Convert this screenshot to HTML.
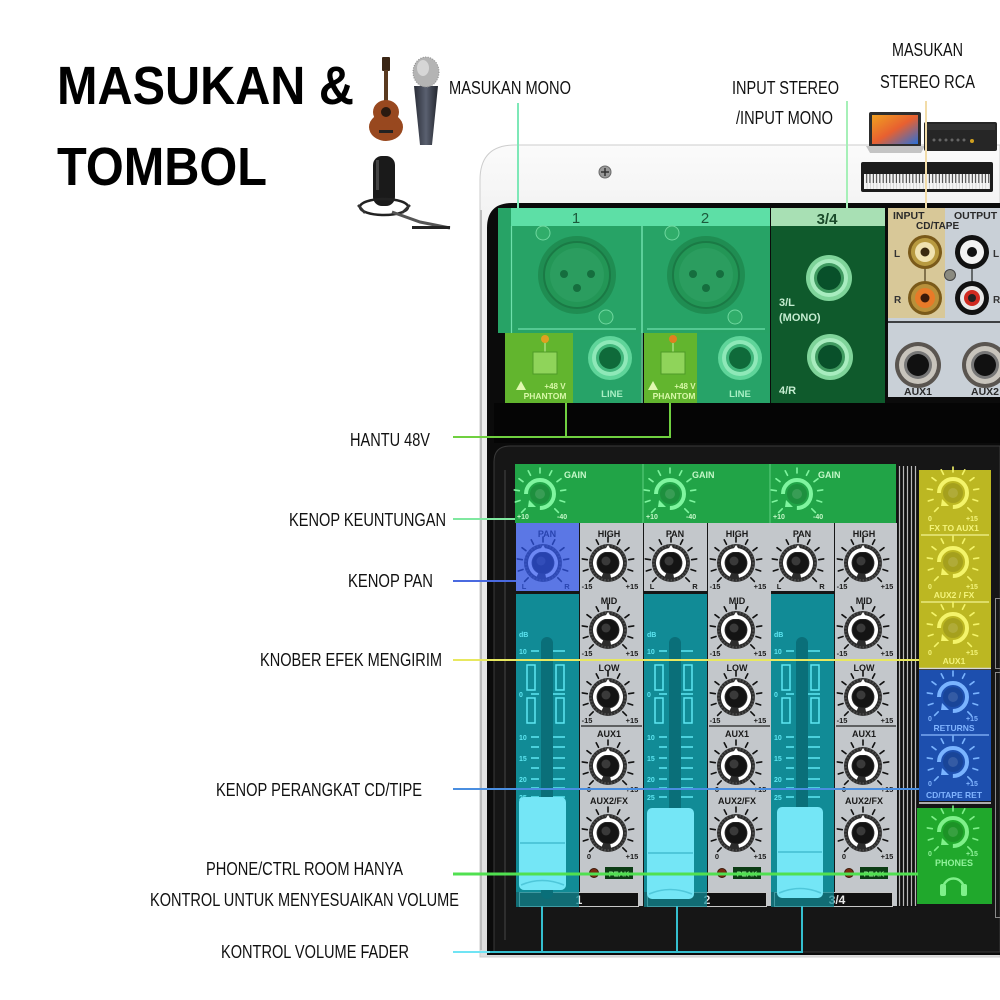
<!DOCTYPE html>
<html><head><meta charset="utf-8"><style>html,body{margin:0;padding:0;background:#fff}svg{display:block}</style></head>
<body>
<svg width="1000" height="1000" viewBox="0 0 1000 1000" xmlns="http://www.w3.org/2000/svg" font-family="'Liberation Sans', Arial, sans-serif">
<defs>
  <linearGradient id="topg" x1="0" y1="0" x2="0" y2="1"><stop offset="0" stop-color="#fbfbfb"/><stop offset="0.08" stop-color="#f3f3f3"/><stop offset="1" stop-color="#dedede"/></linearGradient>
  <linearGradient id="micg" x1="0" y1="0" x2="1" y2="0"><stop offset="0" stop-color="#2a2e38"/><stop offset="0.5" stop-color="#5a6070"/><stop offset="1" stop-color="#23262e"/></linearGradient>
  <linearGradient id="scr" x1="0" y1="0" x2="1" y2="1"><stop offset="0" stop-color="#f0a020"/><stop offset="0.5" stop-color="#e86030"/><stop offset="1" stop-color="#2a70d8"/></linearGradient>
  <pattern id="keys" x="864" y="174" width="3.3" height="20" patternUnits="userSpaceOnUse"><rect width="3.3" height="20" fill="#f4f4f4"/><rect x="2.2" y="0" width="1.1" height="9" fill="#222"/><rect x="3" y="0" width="0.3" height="20" fill="#999"/></pattern>
  <g id="ticks" stroke-width="1.6" stroke-linecap="round" fill="none">
    <path d="M-14.8 14.8L-18.4 18.4M-20 6.5L-24.7 8M-20.7 -3.3L-25.7 -4.1M-17 -12.3L-21 -15.3M-9.5 -18.7L-11.8 -23.2M0 -21L0 -26M9.5 -18.7L11.8 -23.2M17 -12.3L21 -15.3M20.7 -3.3L25.7 -4.1M20 6.5L24.7 8M14.8 14.8L18.4 18.4"/>
  </g>
  <g id="knob">
    <use href="#ticks" stroke="#111"/>
    <circle r="19" fill="#2c2c2c"/>
    <circle r="17.5" fill="none" stroke="#4a4a4a" stroke-width="2.5" stroke-dasharray="1.5 1.8"/>
    <circle r="13.2" fill="none" stroke="#fff" stroke-width="3.6" stroke-dasharray="74 9" transform="rotate(115)"/>
    <circle r="10.5" fill="#141414"/>
    <circle cx="-2" cy="-2" r="4.5" fill="#3a3a3a"/>
    <path d="M0 -18 L-4.5 -11 L4.5 -11Z" fill="#fff"/>
  </g>
  <g id="cknob">
    <use href="#ticks" stroke="currentColor"/>
    <circle r="10" fill="#000" fill-opacity="0.12"/>
    <circle r="14" fill="none" stroke="currentColor" stroke-width="4" stroke-dasharray="66 22" transform="rotate(180)"/>
    <circle r="5" fill="#fff" fill-opacity="0.12"/>
    <path d="M-11 6 L-4 13 L-12 13Z" fill="currentColor"/>
  </g>
</defs>

<rect width="1000" height="1000" fill="#fff"/>

<!-- ===== casing ===== -->
<path d="M480 957 L480 180 Q480 145 515 145 L1000 145 L1000 957 Z" fill="url(#topg)" stroke="#cdcdcd"/>
<path d="M487 955 L487 228 Q487 203 512 203 L1000 203 L1000 955 Z" fill="#0b0b0b"/>
<line x1="481" y1="210" x2="481" y2="950" stroke="#bdbdbd" stroke-width="2"/>
<!-- screw -->
<circle cx="605" cy="172" r="6" fill="#9a9a9a" stroke="#6a6a6a"/>
<path d="M601 172h8M605 168v8" stroke="#333" stroke-width="1.5"/>

<!-- ===== back panel ===== -->
<rect x="498" y="208" width="272" height="125" fill="#27a366"/>
<rect x="511" y="208" width="259" height="18" fill="#5ddfa6"/>
<text x="576" y="223" font-size="15" text-anchor="middle" fill="#1b5a3b">1</text>
<text x="705" y="223" font-size="15" text-anchor="middle" fill="#1b5a3b">2</text>
<line x1="511.5" y1="226" x2="511.5" y2="403" stroke="#6fe0ac" stroke-width="1.2"/>
<line x1="642" y1="226" x2="642" y2="403" stroke="#6fe0ac" stroke-width="1.5"/>
<line x1="518" y1="329" x2="636" y2="329" stroke="#6fe0ac" stroke-width="1.2"/>
<line x1="647" y1="329" x2="765" y2="329" stroke="#6fe0ac" stroke-width="1.2"/>
<!-- XLR 1 -->
<g transform="translate(577,275)">
  <circle r="39" fill="#1f8d52"/>
  <circle r="33" fill="#239656" stroke="#1a7a45" stroke-width="2"/>
  <circle r="27" fill="#2b9d5f"/>
  <circle cx="-13" cy="-1" r="4" fill="#156e3e"/><circle cx="14" cy="-1" r="4" fill="#156e3e"/><circle cx="0" cy="13" r="4" fill="#156e3e"/>
</g>
<circle cx="543" cy="233" r="7" fill="#30ad6a" stroke="#6fd89f"/>
<circle cx="606" cy="317" r="7" fill="#30ad6a" stroke="#6fd89f"/>
<!-- XLR 2 -->
<g transform="translate(706,275)">
  <circle r="39" fill="#1f8d52"/>
  <circle r="33" fill="#239656" stroke="#1a7a45" stroke-width="2"/>
  <circle r="27" fill="#2b9d5f"/>
  <circle cx="-13" cy="-1" r="4" fill="#156e3e"/><circle cx="14" cy="-1" r="4" fill="#156e3e"/><circle cx="0" cy="13" r="4" fill="#156e3e"/>
</g>
<circle cx="672" cy="233" r="7" fill="#30ad6a" stroke="#6fd89f"/>
<circle cx="735" cy="317" r="7" fill="#30ad6a" stroke="#6fd89f"/>
<!-- phantom 1 -->
<rect x="505" y="333" width="68" height="70" fill="#62b52e"/>
<rect x="573" y="333" width="68" height="70" fill="#27a368"/>
<circle cx="545" cy="339" r="4" fill="#e0a020"/>
<line x1="545" y1="343" x2="545" y2="352" stroke="#b8e890" stroke-width="1.2"/>
<rect x="533" y="352" width="24" height="22" fill="#8fd45a" stroke="#4f9a28"/>
<path d="M516 390 L521 381 L526 390Z" fill="#e0f8b0"/>
<text x="555" y="389" font-size="8" font-weight="bold" text-anchor="middle" fill="#d8f8a8">+48 V</text>
<text x="545" y="399" font-size="8.5" font-weight="bold" text-anchor="middle" fill="#d8f8a8">PHANTOM</text>
<g transform="translate(610,358)">
  <circle r="22" fill="#5fd59a"/><circle r="18" fill="#8ee8b8"/><circle r="14" fill="#3fb57a"/><circle r="11" fill="#0f6a3a"/>
</g>
<text x="612" y="397" font-size="9.5" font-weight="bold" text-anchor="middle" fill="#a8f0c4">LINE</text>
<!-- phantom 2 -->
<rect x="644" y="333" width="53" height="70" fill="#62b52e"/>
<rect x="697" y="333" width="73" height="70" fill="#27a368"/>
<circle cx="673" cy="339" r="4" fill="#e08020"/>
<line x1="673" y1="343" x2="673" y2="352" stroke="#b8e890" stroke-width="1.2"/>
<rect x="661" y="352" width="24" height="22" fill="#8fd45a" stroke="#4f9a28"/>
<path d="M648 390 L653 381 L658 390Z" fill="#e0f8b0"/>
<text x="685" y="389" font-size="8" font-weight="bold" text-anchor="middle" fill="#d8f8a8">+48 V</text>
<text x="674" y="399" font-size="8.5" font-weight="bold" text-anchor="middle" fill="#d8f8a8">PHANTOM</text>
<g transform="translate(740,358)">
  <circle r="22" fill="#5fd59a"/><circle r="18" fill="#8ee8b8"/><circle r="14" fill="#3fb57a"/><circle r="11" fill="#0f6a3a"/>
</g>
<text x="740" y="397" font-size="9.5" font-weight="bold" text-anchor="middle" fill="#a8f0c4">LINE</text>
<!-- 3/4 -->
<rect x="771" y="208" width="114" height="18" fill="#a8e0b4"/>
<text x="827" y="224" font-size="15" font-weight="bold" text-anchor="middle" fill="#1a4a2a">3/4</text>
<rect x="771" y="226" width="114" height="177" fill="#0f5a2c"/>
<g transform="translate(829,278)"><circle r="23" fill="#7fd49a"/><circle r="19" fill="#a8ecbf"/><circle r="15" fill="#3f9a60"/><circle r="12" fill="#08502a"/></g>
<g transform="translate(830,357)"><circle r="23" fill="#7fd49a"/><circle r="19" fill="#a8ecbf"/><circle r="15" fill="#3f9a60"/><circle r="12" fill="#08502a"/></g>
<text x="779" y="306" font-size="11" font-weight="bold" fill="#c4ecd0">3/L</text>
<text x="779" y="321" font-size="11" font-weight="bold" fill="#c4ecd0">(MONO)</text>
<text x="779" y="394" font-size="11" font-weight="bold" fill="#c4ecd0">4/R</text>
<!-- right gray I/O panel -->
<rect x="888" y="208" width="112" height="189" fill="#c9d0d7"/>
<rect x="888" y="208" width="57" height="110" fill="#d8c898"/>
<text x="893" y="219" font-size="10.5" font-weight="bold" fill="#2a2a2a">INPUT</text>
<text x="954" y="219" font-size="10.5" font-weight="bold" fill="#2a2a2a">OUTPUT</text>
<text x="916" y="229" font-size="10" font-weight="bold" fill="#2a2a2a">CD/TAPE</text>
<line x1="925" y1="252" x2="925" y2="298" stroke="#4a3a1a" stroke-width="1.2"/>
<line x1="972" y1="252" x2="972" y2="298" stroke="#222" stroke-width="1.2"/>
<g transform="translate(925,252)"><circle r="17" fill="#7a5a1a"/><circle r="14" fill="#b89a40"/><circle r="10" fill="#f0e2b0"/><circle r="4.5" fill="#3a2a10"/></g>
<g transform="translate(925,298)"><circle r="17" fill="#7a5a1a"/><circle r="14" fill="#b8903a"/><circle r="10" fill="#e87a28"/><circle r="4.5" fill="#3a1a0a"/></g>
<g transform="translate(972,252)"><circle r="17" fill="#111"/><circle r="12" fill="#f2f2f2"/><circle r="5" fill="#111"/></g>
<g transform="translate(972,298)"><circle r="17" fill="#111"/><circle r="12" fill="#e8e8e8"/><circle r="8" fill="#d02a20"/><circle r="4" fill="#222"/></g>
<circle cx="950" cy="275" r="5.5" fill="#8a8a80" stroke="#444"/>
<text x="894" y="257" font-size="10" font-weight="bold" fill="#333">L</text>
<text x="894" y="303" font-size="10" font-weight="bold" fill="#333">R</text>
<text x="993" y="257" font-size="10" font-weight="bold" fill="#333">L</text>
<text x="993" y="303" font-size="10" font-weight="bold" fill="#333">R</text>
<line x1="888" y1="322" x2="1000" y2="322" stroke="#111" stroke-width="1.5"/>
<g transform="translate(918,365)"><circle r="23" fill="#5a5550"/><circle r="19" fill="#c8c4bc"/><circle r="14" fill="#777"/><circle r="11" fill="#111"/></g>
<g transform="translate(985,365)"><circle r="23" fill="#5a5550"/><circle r="19" fill="#c8c4bc"/><circle r="14" fill="#777"/><circle r="11" fill="#111"/></g>
<text x="918" y="395" font-size="10.5" font-weight="bold" text-anchor="middle" fill="#2a2a2a">AUX1</text>
<text x="985" y="395" font-size="10.5" font-weight="bold" text-anchor="middle" fill="#2a2a2a">AUX2</text>

<!-- ===== front panel ===== -->
<rect x="494" y="403" width="506" height="40" fill="#050505"/>
<path d="M494 952 L494 462 Q494 446 510 446 L1000 446 L1000 952 Z" fill="#161616" stroke="#3a3a3a"/>
<line x1="505" y1="470" x2="505" y2="940" stroke="#2e2e2e" stroke-width="2"/>

<!-- gain band -->
<rect x="515" y="464" width="381" height="59" fill="#21a447"/>
<line x1="643" y1="464" x2="643" y2="523" stroke="#60d080"/>
<line x1="770" y1="464" x2="770" y2="523" stroke="#60d080"/>
<use href="#cknob" x="540" y="494" style="color:#7ff59f"/>
<use href="#cknob" x="670" y="494" style="color:#7ff59f"/>
<use href="#cknob" x="797" y="494" style="color:#7ff59f"/>
<g font-size="9" font-weight="bold" fill="#c4f8c8">
<text x="564" y="478">GAIN</text><text x="692" y="478">GAIN</text><text x="818" y="478">GAIN</text>
</g>
<g font-size="7" font-weight="bold" fill="#c4f8c8">
<text x="517" y="519">+10</text><text x="557" y="519">-40</text>
<text x="646" y="519">+10</text><text x="686" y="519">-40</text>
<text x="773" y="519">+10</text><text x="813" y="519">-40</text>
</g>

<!-- ===== channel 1 ===== -->
<g id="ch1">
<rect x="580" y="523" width="63" height="383" fill="#c3c7cb"/>
<rect x="516" y="523" width="63" height="68" fill="#c3c7cb"/>
<g font-size="9" font-weight="bold" text-anchor="middle" fill="#1a1a1a">
<text x="547" y="537">PAN</text>
<text x="609" y="537">HIGH</text>
<text x="609" y="604">MID</text>
<text x="609" y="671">LOW</text>
<text x="609" y="737">AUX1</text>
<text x="609" y="804">AUX2/FX</text>
</g>
<use href="#knob" x="543" y="563"/>
<use href="#knob" x="608" y="563"/>
<use href="#knob" x="608" y="630"/>
<use href="#knob" x="608" y="697"/>
<use href="#knob" x="608" y="766"/>
<use href="#knob" x="608" y="833"/>
<g font-size="7.5" font-weight="bold" text-anchor="middle" fill="#1a1a1a">
<text x="524" y="589">L</text><text x="567" y="589">R</text>
<text x="587" y="589">-15</text><text x="632" y="589">+15</text>
<text x="587" y="656">-15</text><text x="632" y="656">+15</text>
<text x="587" y="723">-15</text><text x="632" y="723">+15</text>
<text x="589" y="792">0</text><text x="632" y="792">+15</text>
<text x="589" y="859">0</text><text x="632" y="859">+15</text>
</g>
<line x1="581" y1="726" x2="642" y2="726" stroke="#222" stroke-width="1.2"/>
<circle cx="594" cy="873" r="4.5" fill="#7a2a10" stroke="#3a1a08"/>
<rect x="605" y="867" width="28" height="12" fill="#0d3d15"/>
<text x="619" y="876.5" font-size="7.5" font-weight="bold" text-anchor="middle" fill="#8ef08e">PEAK</text>
<rect x="519.5" y="892.5" width="119" height="14" fill="#111" stroke="#c8c8c8"/>
<text x="579" y="904" font-size="12" font-weight="bold" text-anchor="middle" fill="#e8e8e8">1</text>
<!-- fader -->
<rect x="516" y="594" width="63" height="298" fill="#118b96"/>
<rect x="516" y="892" width="63" height="15" fill="#118b96" fill-opacity="0.75"/>
<rect x="541" y="637" width="12" height="262" rx="6" fill="#0a6f79"/>
<g font-size="7" font-weight="bold" fill="#5ee6f2">
<text x="519" y="637">dB</text>
<text x="519" y="654">10</text><text x="519" y="697">0</text><text x="519" y="740">10</text><text x="519" y="761">15</text><text x="519" y="782">20</text><text x="519" y="800">25</text>
</g>
<g stroke="#5ee6f2" stroke-width="1.5" fill="none">
<path d="M531 651h8M553 651h12M531 694h8M553 694h12M531 737h8M553 737h12M531 747h8M553 747h12M531 758h8M553 758h12M531 768h8M553 768h12M531 779h8M553 779h12M531 788h8M553 788h12M531 797h8M553 797h12"/>
<rect x="527" y="665" width="8" height="25"/><rect x="527" y="698" width="8" height="25"/>
<rect x="556" y="665" width="8" height="25"/><rect x="556" y="698" width="8" height="25"/>
</g>
</g>
<!-- pan ch1 blue highlight -->
<rect x="516" y="523" width="63" height="68" fill="#2f55f0" fill-opacity="0.7"/>

<!-- ===== channel 2 ===== -->
<g transform="translate(128,0)">
<rect x="580" y="523" width="63" height="383" fill="#c3c7cb"/>
<rect x="516" y="523" width="63" height="68" fill="#c3c7cb"/>
<g font-size="9" font-weight="bold" text-anchor="middle" fill="#1a1a1a">
<text x="547" y="537">PAN</text>
<text x="609" y="537">HIGH</text>
<text x="609" y="604">MID</text>
<text x="609" y="671">LOW</text>
<text x="609" y="737">AUX1</text>
<text x="609" y="804">AUX2/FX</text>
</g>
<use href="#knob" x="543" y="563"/>
<use href="#knob" x="608" y="563"/>
<use href="#knob" x="608" y="630"/>
<use href="#knob" x="608" y="697"/>
<use href="#knob" x="608" y="766"/>
<use href="#knob" x="608" y="833"/>
<g font-size="7.5" font-weight="bold" text-anchor="middle" fill="#1a1a1a">
<text x="524" y="589">L</text><text x="567" y="589">R</text>
<text x="587" y="589">-15</text><text x="632" y="589">+15</text>
<text x="587" y="656">-15</text><text x="632" y="656">+15</text>
<text x="587" y="723">-15</text><text x="632" y="723">+15</text>
<text x="589" y="792">0</text><text x="632" y="792">+15</text>
<text x="589" y="859">0</text><text x="632" y="859">+15</text>
</g>
<line x1="581" y1="726" x2="642" y2="726" stroke="#222" stroke-width="1.2"/>
<circle cx="594" cy="873" r="4.5" fill="#7a2a10" stroke="#3a1a08"/>
<rect x="605" y="867" width="28" height="12" fill="#0d3d15"/>
<text x="619" y="876.5" font-size="7.5" font-weight="bold" text-anchor="middle" fill="#8ef08e">PEAK</text>
<rect x="519.5" y="892.5" width="119" height="14" fill="#111" stroke="#c8c8c8"/>
<text x="579" y="904" font-size="12" font-weight="bold" text-anchor="middle" fill="#e8e8e8">2</text>
<rect x="516" y="594" width="63" height="298" fill="#118b96"/>
<rect x="516" y="892" width="63" height="15" fill="#118b96" fill-opacity="0.75"/>
<rect x="541" y="637" width="12" height="262" rx="6" fill="#0a6f79"/>
<g font-size="7" font-weight="bold" fill="#5ee6f2">
<text x="519" y="637">dB</text>
<text x="519" y="654">10</text><text x="519" y="697">0</text><text x="519" y="740">10</text><text x="519" y="761">15</text><text x="519" y="782">20</text><text x="519" y="800">25</text>
</g>
<g stroke="#5ee6f2" stroke-width="1.5" fill="none">
<path d="M531 651h8M553 651h12M531 694h8M553 694h12M531 737h8M553 737h12M531 747h8M553 747h12M531 758h8M553 758h12M531 768h8M553 768h12M531 779h8M553 779h12M531 788h8M553 788h12M531 797h8M553 797h12"/>
<rect x="527" y="665" width="8" height="25"/><rect x="527" y="698" width="8" height="25"/>
<rect x="556" y="665" width="8" height="25"/><rect x="556" y="698" width="8" height="25"/>
</g>
</g>

<!-- ===== channel 3/4 ===== -->
<g transform="translate(255,0)">
<rect x="580" y="523" width="62" height="383" fill="#c3c7cb"/>
<rect x="516" y="523" width="63" height="68" fill="#c3c7cb"/>
<g font-size="9" font-weight="bold" text-anchor="middle" fill="#1a1a1a">
<text x="547" y="537">PAN</text>
<text x="609" y="537">HIGH</text>
<text x="609" y="604">MID</text>
<text x="609" y="671">LOW</text>
<text x="609" y="737">AUX1</text>
<text x="609" y="804">AUX2/FX</text>
</g>
<use href="#knob" x="543" y="563"/>
<use href="#knob" x="608" y="563"/>
<use href="#knob" x="608" y="630"/>
<use href="#knob" x="608" y="697"/>
<use href="#knob" x="608" y="766"/>
<use href="#knob" x="608" y="833"/>
<g font-size="7.5" font-weight="bold" text-anchor="middle" fill="#1a1a1a">
<text x="524" y="589">L</text><text x="567" y="589">R</text>
<text x="587" y="589">-15</text><text x="632" y="589">+15</text>
<text x="587" y="656">-15</text><text x="632" y="656">+15</text>
<text x="587" y="723">-15</text><text x="632" y="723">+15</text>
<text x="589" y="792">0</text><text x="632" y="792">+15</text>
<text x="589" y="859">0</text><text x="632" y="859">+15</text>
</g>
<line x1="581" y1="726" x2="641" y2="726" stroke="#222" stroke-width="1.2"/>
<circle cx="594" cy="873" r="4.5" fill="#7a2a10" stroke="#3a1a08"/>
<rect x="605" y="867" width="28" height="12" fill="#0d3d15"/>
<text x="619" y="876.5" font-size="7.5" font-weight="bold" text-anchor="middle" fill="#8ef08e">PEAK</text>
<rect x="519.5" y="892.5" width="118" height="14" fill="#111" stroke="#c8c8c8"/>
<text x="582" y="904" font-size="12" font-weight="bold" text-anchor="middle" fill="#e8e8e8">3/4</text>
<rect x="516" y="594" width="63" height="298" fill="#118b96"/>
<rect x="516" y="892" width="63" height="15" fill="#118b96" fill-opacity="0.75"/>
<rect x="541" y="637" width="12" height="262" rx="6" fill="#0a6f79"/>
<g font-size="7" font-weight="bold" fill="#5ee6f2">
<text x="519" y="637">dB</text>
<text x="519" y="654">10</text><text x="519" y="697">0</text><text x="519" y="740">10</text><text x="519" y="761">15</text><text x="519" y="782">20</text><text x="519" y="800">25</text>
</g>
<g stroke="#5ee6f2" stroke-width="1.5" fill="none">
<path d="M531 651h8M553 651h12M531 694h8M553 694h12M531 737h8M553 737h12M531 747h8M553 747h12M531 758h8M553 758h12M531 768h8M553 768h12M531 779h8M553 779h12M531 788h8M553 788h12M531 797h8M553 797h12"/>
<rect x="527" y="665" width="8" height="25"/><rect x="527" y="698" width="8" height="25"/>
<rect x="556" y="665" width="8" height="25"/><rect x="556" y="698" width="8" height="25"/>
</g>
</g>

<!-- fader caps -->
<g>
<rect x="519" y="797" width="47" height="93" rx="5" fill="#74e6f6"/>
<path d="M520 843h45" stroke="#4fc7da" stroke-width="2"/>
<path d="M521 885 Q542 876 564 885" stroke="#4fc7da" stroke-width="1.5" fill="none"/>
<rect x="647" y="808" width="47" height="91" rx="5" fill="#74e6f6"/>
<path d="M648 853h45" stroke="#4fc7da" stroke-width="2"/>
<path d="M649 894 Q670 885 692 894" stroke="#4fc7da" stroke-width="1.5" fill="none"/>
<rect x="777" y="807" width="46" height="91" rx="5" fill="#74e6f6"/>
<path d="M778 852h44" stroke="#4fc7da" stroke-width="2"/>
<path d="M779 893 Q800 884 821 893" stroke="#4fc7da" stroke-width="1.5" fill="none"/>
</g>

<!-- stripes -->
<rect x="897" y="466" width="21" height="441" fill="#111"/>
<g stroke="#b8b8b8" stroke-width="1.2">
<line x1="899.5" y1="466" x2="899.5" y2="906"/><line x1="903.5" y1="466" x2="903.5" y2="906"/><line x1="907.5" y1="466" x2="907.5" y2="906"/><line x1="911.5" y1="466" x2="911.5" y2="906"/><line x1="915.5" y1="466" x2="915.5" y2="906"/>
</g>

<!-- right column -->
<rect x="919" y="470" width="72" height="198" fill="#bcb722"/>
<line x1="921" y1="535" x2="989" y2="535" stroke="#eaea80" stroke-width="1.5"/>
<line x1="921" y1="602" x2="989" y2="602" stroke="#eaea80" stroke-width="1.5"/>
<use href="#cknob" x="953" y="493" style="color:#f4f46a"/>
<use href="#cknob" x="953" y="562" style="color:#f4f46a"/>
<use href="#cknob" x="953" y="628" style="color:#f4f46a"/>
<g font-size="8.5" font-weight="bold" text-anchor="middle" fill="#f4f47a">
<text x="954" y="531">FX TO AUX1</text>
<text x="954" y="598">AUX2 / FX</text>
<text x="954" y="664">AUX1</text>
</g>
<g font-size="7" font-weight="bold" fill="#f4f47a">
<text x="928" y="521">0</text><text x="966" y="521">+15</text>
<text x="928" y="589">0</text><text x="966" y="589">+15</text>
<text x="928" y="655">0</text><text x="966" y="655">+15</text>
</g>
<line x1="919" y1="668.5" x2="991" y2="668.5" stroke="#d8d8d8" stroke-width="1.5"/>
<rect x="919" y="670" width="72" height="131" fill="#1d4fae"/>
<line x1="921" y1="735" x2="989" y2="735" stroke="#7aa8f0" stroke-width="1.5"/>
<use href="#cknob" x="953" y="697" style="color:#7ab4ff"/>
<use href="#cknob" x="953" y="762" style="color:#7ab4ff"/>
<g font-size="8.5" font-weight="bold" text-anchor="middle" fill="#80b4ff">
<text x="954" y="731">RETURNS</text>
<text x="954" y="798">CD/TAPE RET</text>
</g>
<g font-size="7" font-weight="bold" fill="#80b4ff">
<text x="928" y="721">0</text><text x="966" y="721">+15</text>
<text x="928" y="786">0</text><text x="966" y="786">+15</text>
</g>
<line x1="919" y1="803" x2="991" y2="803" stroke="#e0e0e0" stroke-width="1.5"/>
<rect x="917" y="808" width="75" height="96" fill="#20a82c"/>
<use href="#cknob" x="953" y="832" style="color:#7ff08a"/>
<g font-size="7" font-weight="bold" fill="#90f29a">
<text x="928" y="856">0</text><text x="966" y="856">+15</text>
</g>
<text x="954" y="866" font-size="9" font-weight="bold" text-anchor="middle" fill="#90f29a">PHONES</text>
<path d="M943 889 A10.5 10.5 0 0 1 964 889" stroke="#7ff08a" stroke-width="2.5" fill="none"/>
<rect x="940" y="884" width="6" height="12" rx="2" fill="#7ff08a"/>
<rect x="961" y="884" width="6" height="12" rx="2" fill="#7ff08a"/>
<rect x="995.5" y="598.5" width="10" height="70" fill="none" stroke="#8a8a8a"/>
<rect x="995.5" y="672.5" width="10" height="245" fill="none" stroke="#8a8a8a"/>

<!-- ===== instruments ===== -->
<!-- guitar -->
<rect x="382" y="57" width="8" height="14" rx="1" fill="#3a2615"/>
<rect x="384" y="70" width="4" height="42" fill="#5a3a20"/>
<ellipse cx="386" cy="112" rx="13" ry="12" fill="#98481f"/>
<ellipse cx="386" cy="127" rx="17" ry="14" fill="#98481f"/>
<ellipse cx="386" cy="120" rx="11" ry="6" fill="#98481f"/>
<circle cx="386" cy="112" r="5" fill="#2a1a10"/>
<rect x="379" y="130" width="14" height="3" fill="#222"/>
<!-- handheld mic -->
<path d="M414 86 L438 86 L432 145 L420 145 Z" fill="url(#micg)"/>
<ellipse cx="426" cy="72" rx="13" ry="15" fill="#b4b4b4"/>
<ellipse cx="426" cy="72" rx="13" ry="15" fill="none" stroke="#8a8a8a" stroke-width="1" stroke-dasharray="1 1.5"/>
<ellipse cx="423" cy="68" rx="6" ry="8" fill="#d6d6d6"/>
<!-- studio mic -->
<rect x="373" y="156" width="22" height="50" rx="9" fill="#1a1a1a"/>
<rect x="376" y="160" width="3" height="30" fill="#444"/>
<ellipse cx="384" cy="207" rx="24" ry="8" fill="none" stroke="#222" stroke-width="2.5"/>
<path d="M358 205 L365 213 M410 205 L402 213" stroke="#333" stroke-width="2.5"/>
<path d="M392 212 L420 222 L450 228" stroke="#555" stroke-width="3" fill="none"/>
<path d="M412 226 L450 226 L450 229 L412 229Z" fill="#222"/>
<!-- laptop -->
<rect x="869" y="112" width="52" height="35" rx="2" fill="#2e2e2e"/>
<rect x="872" y="115" width="46" height="29" fill="url(#scr)"/>
<path d="M866 146 L925 146 L921 153 L870 153Z" fill="#c4c4c4"/>
<!-- amp -->
<rect x="924" y="122" width="73" height="29" rx="2" fill="#262626"/>
<rect x="926" y="124" width="69" height="6" fill="#333"/>
<g fill="#666"><circle cx="934" cy="140" r="1.5"/><circle cx="940" cy="140" r="1.5"/><circle cx="946" cy="140" r="1.5"/><circle cx="952" cy="140" r="1.5"/><circle cx="958" cy="140" r="1.5"/><circle cx="964" cy="140" r="1.5"/></g>
<circle cx="972" cy="141" r="2" fill="#d0a020"/>
<!-- keyboard -->
<rect x="861" y="162" width="132" height="30" rx="2" fill="#1c1c1c"/>
<rect x="864" y="174" width="126" height="15" fill="url(#keys)"/>

<!-- ===== titles & labels ===== -->
<text x="57" y="104" font-size="54" font-weight="bold" fill="#000" textLength="297" lengthAdjust="spacingAndGlyphs">MASUKAN &amp;</text>
<text x="57" y="185" font-size="54" font-weight="bold" fill="#000" textLength="210" lengthAdjust="spacingAndGlyphs">TOMBOL</text>
<g font-size="18" fill="#111" lengthAdjust="spacingAndGlyphs">
<text x="449" y="94" textLength="122" lengthAdjust="spacingAndGlyphs">MASUKAN MONO</text>
<text x="732" y="94" textLength="107" lengthAdjust="spacingAndGlyphs">INPUT STEREO</text>
<text x="736" y="124" textLength="97" lengthAdjust="spacingAndGlyphs">/INPUT MONO</text>
<text x="892" y="56" textLength="71" lengthAdjust="spacingAndGlyphs">MASUKAN</text>
<text x="880" y="88" textLength="95" lengthAdjust="spacingAndGlyphs">STEREO RCA</text>
<text x="350" y="446" textLength="80" lengthAdjust="spacingAndGlyphs">HANTU 48V</text>
<text x="289" y="526" textLength="157" lengthAdjust="spacingAndGlyphs">KENOP KEUNTUNGAN</text>
<text x="348" y="587" textLength="85" lengthAdjust="spacingAndGlyphs">KENOP PAN</text>
<text x="260" y="666" textLength="182" lengthAdjust="spacingAndGlyphs">KNOBER EFEK MENGIRIM</text>
<text x="216" y="796" textLength="206" lengthAdjust="spacingAndGlyphs">KENOP PERANGKAT CD/TIPE</text>
<text x="206" y="875" textLength="197" lengthAdjust="spacingAndGlyphs">PHONE/CTRL ROOM HANYA</text>
<text x="150" y="906" textLength="309" lengthAdjust="spacingAndGlyphs">KONTROL UNTUK MENYESUAIKAN VOLUME</text>
<text x="221" y="958" textLength="188" lengthAdjust="spacingAndGlyphs">KONTROL VOLUME FADER</text>
</g>

<!-- ===== annotation lines ===== -->
<line x1="518" y1="103" x2="518" y2="208" stroke="#7ee8b8" stroke-width="2"/>
<line x1="847" y1="101" x2="847" y2="208" stroke="#a6f0b8" stroke-width="2"/>
<line x1="926" y1="101" x2="926" y2="208" stroke="#f2dca8" stroke-width="2"/>
<path d="M453 437 H670 V403 M566 437 V403" stroke="#70d040" stroke-width="2" fill="none"/>
<line x1="453" y1="519" x2="515" y2="519" stroke="#80e8a0" stroke-width="2"/>
<line x1="453" y1="581" x2="516" y2="581" stroke="#4a6ae0" stroke-width="2"/>
<line x1="453" y1="660" x2="919" y2="660" stroke="#e8e860" stroke-width="2"/>
<line x1="453" y1="789" x2="919" y2="789" stroke="#4a8ee0" stroke-width="2"/>
<line x1="453" y1="874" x2="918" y2="874" stroke="#50e050" stroke-width="3"/>
<path d="M453 952 H802 V906 M542 952 V906 M677 952 V906" stroke="#35c0d0" stroke-width="2" fill="none"/>
<line x1="453" y1="952" x2="490" y2="952" stroke="#70e4f4" stroke-width="2"/>
</svg>
</body></html>
